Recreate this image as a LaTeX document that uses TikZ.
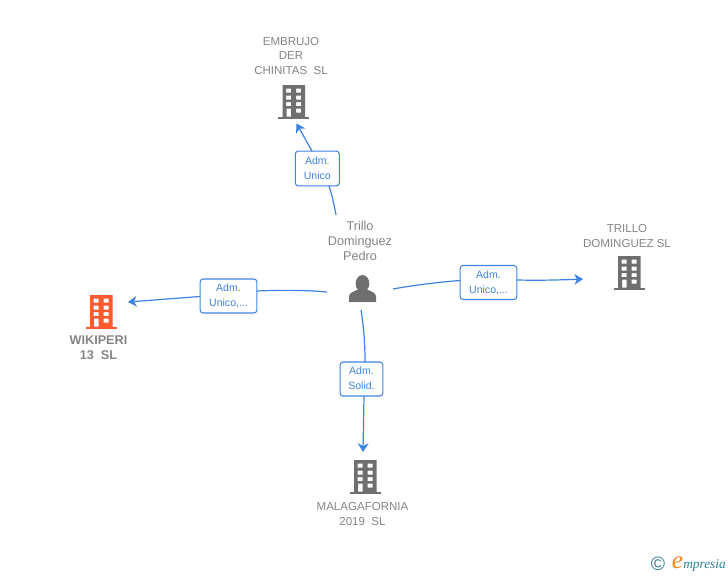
\documentclass[tikz,border=0pt]{standalone}
\usepackage{fontspec}
\setmainfont{Liberation Sans}
\newfontfamily\logofont{Liberation Serif}
\usetikzlibrary{arrows.meta}
\definecolor{linkblue}{HTML}{3F83E0}
\definecolor{labelgray}{HTML}{858585}
\definecolor{icongray}{HTML}{6F6F6F}
\definecolor{iconorange}{HTML}{FF5A2C}
\definecolor{logoteal}{HTML}{2F7F95}
\definecolor{logoorange}{HTML}{F08A1D}
\tikzset{
  x=0.75pt,y=-0.75pt,
  entitytext/.style={font=\fontsize{8.65pt}{11.2pt}\selectfont,text=labelgray,align=center,inner sep=0pt},
  persontext/.style={entitytext,font=\fontsize{9.5pt}{11.2pt}\selectfont},
  boldtext/.style={entitytext,font=\fontsize{9.5pt}{11.2pt}\selectfont\bfseries},
  rolebox/.style={draw=linkblue,line width=0.8pt,rounded corners=2.2pt,fill=white,text=linkblue,
    font=\fontsize{7.9pt}{11.2pt}\selectfont,align=center,inner ysep=0pt,inner xsep=0pt,text depth=1pt},
  link/.style={draw=linkblue,line width=0.9pt},
  arrowlink/.style={link,-{Stealth[length=6.5pt,width=8pt,inset=2pt]}},
  pics/building/.style={code={
    \fill[#1,even odd rule]
      (-11,-17) rectangle (11.5,15)
      (-7.5,-13.5) rectangle (-2.5,-9.5) (2.5,-13.5) rectangle (7.5,-9.5)
      (-7.5,-6.5) rectangle (-2.5,-2.5) (2.5,-6.5) rectangle (7.5,-2.5)
      (-7.5,0) rectangle (-2.5,4) (2.5,0) rectangle (7.5,4)
      (-7,6.5) rectangle (-2.5,14.5) (2.5,6.5) rectangle (7.5,10.5);
    \fill[#1] (-15.5,14.5) rectangle (15.5,17);
  }}
}
\begin{document}
\begin{tikzpicture}
\useasboundingbox (0,0) rectangle (728,575);
\fill[white] (0,0) rectangle (728,575);

% icons
\pic at (293.5,102) {building=icongray};
\pic at (101,312) {building=iconorange};
\pic at (629,273) {building=icongray};
\pic at (365,477) {building=icongray};

% person
\fill[icongray] (362.5,283.5) ellipse (6.8 and 8.5);
\fill[icongray] (349,302) -- (349,296.5) .. controls (349,292.5) and (354,291.5) .. (358,289.5)
  -- (367,289.5) .. controls (371,291.5) and (376,292.5) .. (376,296.5) -- (376,302) -- cycle;

% texts
\node[entitytext] (tEmbrujo) at (291,56) {EMBRUJO\\DER\\CHINITAS\ \ SL};
\node[persontext] (tPerson) at (360,241) {Trillo\\Dominguez\\Pedro};
\node[entitytext] (tTrillo) at (627,236) {TRILLO\\DOMINGUEZ SL};
\node[boldtext] (tWiki) at (98.5,348) {WIKIPERI\\13\ \ SL};
\node[entitytext] (tMalaga) at (362.5,514) {MALAGAFORNIA\\2019\ \ SL};

% role boxes
\node[rolebox,minimum width=33pt,minimum height=26pt] (rTop) at (317.3,168.5) {Adm.\\Unico};
\node[rolebox,minimum width=42.5pt,minimum height=25.5pt] (rLeft) at (228.5,296) {Adm.\\Unico,...};
\node[rolebox,minimum width=42.5pt,minimum height=25.5pt] (rRight) at (488.5,282.5) {Adm.\\Unico,...};
\node[rolebox,minimum width=32pt,minimum height=25.5pt] (rDown) at (361.5,379) {Adm.\\Solid.};

% connector ends
\coordinate (sTop) at (336,215);
\coordinate (eTop) at (296.5,123.5);
\coordinate (sLeft) at (327,292);
\coordinate (eLeft) at (128,302);
\coordinate (sRight) at (393,289);
\coordinate (eRight) at (583,279);
\coordinate (sDown) at (361,310);
\coordinate (eDown) at (363,452);

% connectors
\draw[link] (sTop) .. controls (334,204) and (332,195) .. (329,186);
\draw[arrowlink] (312,151) -- (eTop);
\draw[link] (sLeft) .. controls (305,290) and (280,290) .. (257,291);
\draw[arrowlink] (200,296.5) -- (eLeft);
\draw[link] (sRight) .. controls (415,285) and (440,282) .. (460,280.5);
\draw[arrowlink] (517,280) .. controls (540,280.5) and (560,280) .. (eRight);
\draw[link] (sDown) .. controls (364,328) and (365,345) .. (365,362);
\draw[arrowlink] (364,396) -- (eDown);

% logo
\node[inner sep=0pt,text=logoteal,font=\fontsize{14.5pt}{15pt}\selectfont] (logoC) at (658,564) {\char"00A9};
\node[inner sep=0pt,text=logoorange,font=\fontsize{19pt}{19pt}\logofont\itshape] (logoE) at (677.5,563) {e};
\node[inner sep=0pt,anchor=west,text=logoteal,font=\fontsize{10pt}{10pt}\logofont\itshape] (logoT) at (683,565) {mpresia};
\end{tikzpicture}
\end{document}
